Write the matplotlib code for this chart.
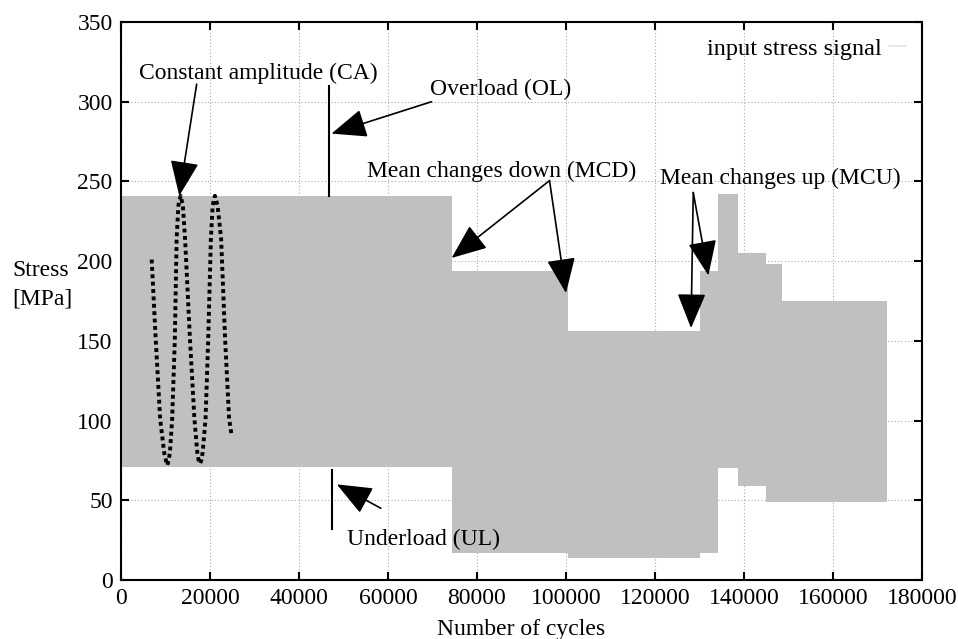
import numpy as np
import matplotlib
matplotlib.use('Agg')
import matplotlib.pyplot as plt
from matplotlib.lines import Line2D

plt.rcParams['font.family'] = ['Liberation Serif', 'DejaVu Serif']
plt.rcParams['font.size'] = 17

# step blocks of the input stress signal (start of each block, last entry = end)
block_x = [0, 74300, 100500, 130200, 134100, 138700, 144900, 148500, 172100]
block_upper = [241, 194, 156, 194, 242, 205, 198, 175]
block_lower = [71, 17, 14, 17, 70, 59, 49, 49]

# constant amplitude sketch (dotted)
ca_x = [6900, 7800, 8800, 9700, 10100, 10400, 10700, 11000, 11500, 12100,
        12500, 12900, 13400, 13900, 14400, 15500, 16500, 17150, 17450, 17750,
        18050, 18350, 19000, 19600, 20200, 20600, 21100, 21700, 22500, 23400,
        24300, 24900]
ca_y = [201, 151, 101, 80, 75, 72, 75, 80, 101, 151,
        214, 235, 241, 235, 214, 151, 101, 80, 75, 73,
        75, 80, 101, 151, 214, 235, 241, 235, 214, 151,
        101, 90]

# overload / underload spikes
ol_x, ol_y = [46800, 46800], [241, 310]
ul_x, ul_y = [47500, 47500], [32, 69]

x_ticks = np.arange(0, 180001, 20000)
y_ticks = np.arange(0, 351, 50)

fig = plt.figure(figsize=(9.58, 6.39), dpi=100)
ax = fig.add_axes([0.1263, 0.0923, 0.8361, 0.8733])

up = block_upper + [block_upper[-1]]
lo = block_lower + [block_lower[-1]]
ax.fill_between(block_x, lo, up, step='post', color='#c0c0c0', lw=0, zorder=2)

ax.plot(ca_x, ca_y, color='black', lw=2.8, linestyle=(0, (1, 0.9)), zorder=3)
ax.plot(ol_x, ol_y, color='black', lw=1.5, zorder=3)
ax.plot(ul_x, ul_y, color='black', lw=1.5, zorder=3)

arrow = dict(arrowstyle='-|>,head_length=1.1,head_width=0.45', color='black',
             lw=1.2, shrinkA=0, shrinkB=0, mutation_scale=20)

ax.text(30800, 314.5, 'Constant amplitude (CA)', ha='center', va='baseline')
ax.annotate('', xy=(13100, 241), xytext=(17000, 311), arrowprops=arrow)

ax.text(69400, 304, 'Overload (OL)', ha='left', va='baseline')
ax.annotate('', xy=(47300, 280), xytext=(69800, 300), arrowprops=arrow)

ax.text(55300, 252.5, 'Mean changes down (MCD)', ha='left', va='baseline')
ax.annotate('', xy=(74300, 202), xytext=(96300, 250.5), arrowprops=arrow)
ax.annotate('', xy=(100000, 180), xytext=(96300, 250.5), arrowprops=arrow)

ax.text(121100, 248.5, 'Mean changes up (MCU)', ha='left', va='baseline')
ax.annotate('', xy=(128100, 158), xytext=(128600, 243), arrowprops=arrow)
ax.annotate('', xy=(132000, 191), xytext=(128600, 243), arrowprops=arrow)

ax.text(50700, 22, 'Underload (UL)', ha='left', va='baseline')
ax.annotate('', xy=(48500, 60), xytext=(58400, 45), arrowprops=arrow)

handle = Line2D([], [], color='#e4e4e4', lw=1.2)
ax.legend([handle], ['input stress signal'], loc='upper right', frameon=False,
          markerfirst=False, handlelength=0.7, handletextpad=0.3,
          borderaxespad=0.25, fontsize=17.5)

ax.set_xlim(0, 180000)
ax.set_ylim(0, 350)
ax.set_xticks(x_ticks)
ax.set_yticks(y_ticks)
ax.set_xticklabels([str(v) for v in x_ticks])
ax.set_axisbelow(True)
ax.grid(True, color='#aaaaaa', lw=0.8, linestyle=(0, (1, 2)))
ax.tick_params(direction='in', length=6, width=1.5, top=True, right=True,
               labelsize=17, pad=6)
for s in ax.spines.values():
    s.set_linewidth(1.5)

ax.set_xlabel('Number of cycles', fontsize=17, labelpad=7)
fig.text(12 / 958, 1 - 285 / 639, 'Stress\n[MPa]', ha='left', va='center',
         multialignment='left', fontsize=17, linespacing=1.45)

fig.savefig('out.png', dpi=100)
